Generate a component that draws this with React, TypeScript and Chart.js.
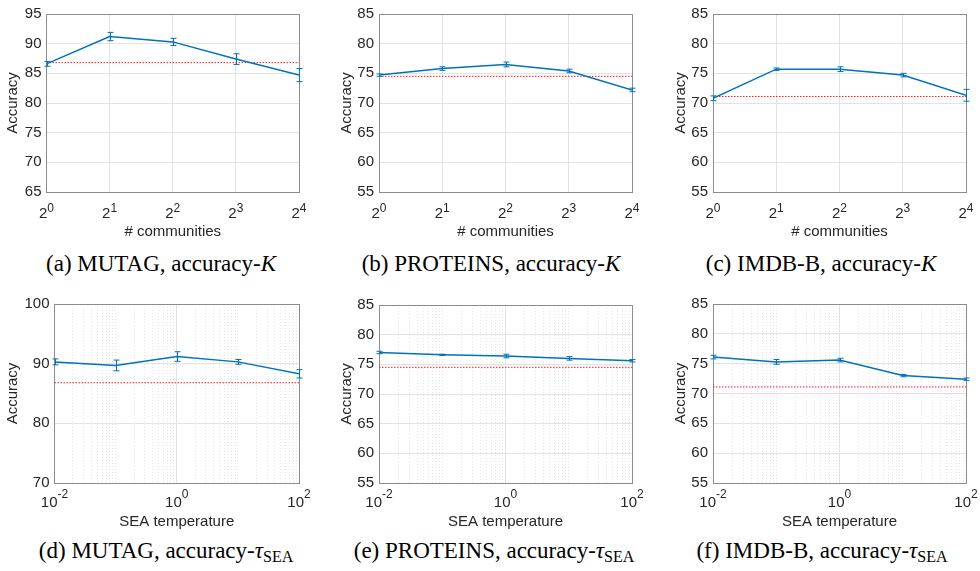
import React, { useEffect, useRef } from 'react';
import { Chart, registerables } from 'chart.js';

Chart.register(...registerables);

// ---------- data ----------
const K_VALUES = [1, 2, 4, 8, 16];
const TEMP_VALUES = [0.01, 0.1, 1, 10, 100];

const MUTAG_K = [86.6, 91.2, 90.3, 87.4, 84.7];
const MUTAG_K_ERR = [0.4, 0.7, 0.6, 0.9, 1.1];
const PROTEINS_K = [74.7, 75.8, 76.5, 75.4, 72.2];
const PROTEINS_K_ERR = [0.2, 0.3, 0.4, 0.3, 0.3];
const IMDB_K = [70.8, 75.7, 75.7, 74.7, 71.3];
const IMDB_K_ERR = [0.4, 0.2, 0.4, 0.3, 1.0];

const MUTAG_T = [90.3, 89.7, 91.2, 90.3, 88.3];
const MUTAG_T_ERR = [0.5, 0.9, 0.8, 0.4, 0.7];
const PROTEINS_T = [77.0, 76.6, 76.4, 76.0, 75.6];
const PROTEINS_T_ERR = [0.2, 0.1, 0.3, 0.3, 0.2];
const IMDB_T = [76.1, 75.3, 75.6, 73.0, 72.4];
const IMDB_T_ERR = [0.3, 0.4, 0.3, 0.2, 0.2];

const BASE_MUTAG = 86.8;
const BASE_PROTEINS = 74.5;
const BASE_IMDB = 71.1;

const K_TICK_VALUES = [1, 2, 4, 8, 16];
const K_TICK_BASES = ['2', '2', '2', '2', '2'];
const K_TICK_EXPS = ['0', '1', '2', '3', '4'];
const TEMP_TICK_VALUES = [0.01, 1, 100];
const TEMP_TICK_BASES = ['10', '10', '10'];
const TEMP_TICK_EXPS = ['-2', '0', '2'];

// minor grid positions for the log temperature axis
const TEMP_GRID: number[] = [];
for (let d = -2; d <= 1; d++) {
  for (let k = 1; k <= 9; k++) TEMP_GRID.push(Number((k * Math.pow(10, d)).toPrecision(3)));
}
TEMP_GRID.push(100);

// ---------- styles ----------
const BLUE = '#0072BD';
const RED = '#ff1a1a';
const BOX = '#8c8c8c';
const GRID = '#e3e3e3';
const MINOR = '#e6e6e6';
const TEXT = '#262626';
const SANS = '"Liberation Sans", Arial, Helvetica, sans-serif';
const SERIF = '"Liberation Serif", "Times New Roman", serif';

type PanelCfg = {
  x: number[];
  y: number[];
  err: number[];
  base: number;
  yMin: number;
  yMax: number;
  yStep: number;
  xMin: number;
  xMax: number;
  xGrid: number[];
  xMajor: number[];
  tickVals: number[];
  tickBases: string[];
  tickExps: string[];
  xTitle: string;
  L: number;
  T: number;
  R: number;
  B: number;
  yTitleX: number;
  hx: number;
  labelDy: number;
  expRaise: number;
};

const TOP_K = { xMin: 1, xMax: 16, xGrid: K_TICK_VALUES, xMajor: K_TICK_VALUES, tickVals: K_TICK_VALUES, tickBases: K_TICK_BASES, tickExps: K_TICK_EXPS, xTitle: '# communities', hx: 49, labelDy: 26, expRaise: 6.5 };
const BOT_T = { xMin: 0.01, xMax: 100, xGrid: TEMP_GRID, xMajor: TEMP_TICK_VALUES, tickVals: TEMP_TICK_VALUES, tickBases: TEMP_TICK_BASES, tickExps: TEMP_TICK_EXPS, xTitle: 'SEA temperature', hx: 48, labelDy: 24, expRaise: 9.5 };

const PANELS: PanelCfg[] = [
  { ...TOP_K, x: K_VALUES, y: MUTAG_K, err: MUTAG_K_ERR, base: BASE_MUTAG, yMin: 65, yMax: 95, yStep: 5, L: 46, T: 14, R: 298, B: 192, yTitleX: 12.5 },
  { ...TOP_K, x: K_VALUES, y: PROTEINS_K, err: PROTEINS_K_ERR, base: BASE_PROTEINS, yMin: 55, yMax: 85, yStep: 5, L: 379, T: 14, R: 632, B: 192, yTitleX: 347 },
  { ...TOP_K, x: K_VALUES, y: IMDB_K, err: IMDB_K_ERR, base: BASE_IMDB, yMin: 55, yMax: 85, yStep: 5, L: 713, T: 14, R: 966, B: 192, yTitleX: 681 },
  { ...BOT_T, x: TEMP_VALUES, y: MUTAG_T, err: MUTAG_T_ERR, base: BASE_MUTAG, yMin: 70, yMax: 100, yStep: 10, L: 54, T: 304, R: 298, B: 483, yTitleX: 12.5 },
  { ...BOT_T, x: TEMP_VALUES, y: PROTEINS_T, err: PROTEINS_T_ERR, base: BASE_PROTEINS, yMin: 55, yMax: 85, yStep: 5, L: 379, T: 305, R: 632, B: 483, yTitleX: 347 },
  { ...BOT_T, x: TEMP_VALUES, y: IMDB_T, err: IMDB_T_ERR, base: BASE_IMDB, yMin: 55, yMax: 85, yStep: 5, L: 713, T: 304, R: 966, B: 483, yTitleX: 681 },
];

function Panel({ cfg }: { cfg: PanelCfg }) {
  const ref = useRef<HTMLCanvasElement | null>(null);
  const left = cfg.yTitleX - 12;
  const top = cfg.T - 14;
  const width = Math.round(cfg.R + 14 - left);
  const height = Math.round(cfg.B + cfg.hx - top);
  const yW = cfg.L - left;

  useEffect(() => {
    if (!ref.current) return;
    const overlay = {
      id: 'overlay',
      afterDatasetsDraw(chart: any) {
        const ctx = chart.ctx;
        const xs = chart.scales.x;
        const ys = chart.scales.y;
        ctx.save();
        ctx.strokeStyle = BLUE;
        ctx.lineWidth = 1;
        cfg.x.forEach((xv, i) => {
          const px = Math.round(xs.getPixelForValue(xv)) + 0.5;
          const y1 = ys.getPixelForValue(cfg.y[i] + cfg.err[i]);
          const y2 = ys.getPixelForValue(cfg.y[i] - cfg.err[i]);
          ctx.beginPath();
          ctx.moveTo(px, y1);
          ctx.lineTo(px, y2);
          ctx.moveTo(px - 3, y1);
          ctx.lineTo(px + 3, y1);
          ctx.moveTo(px - 3, y2);
          ctx.lineTo(px + 3, y2);
          ctx.stroke();
        });
        ctx.restore();
      },
      afterDraw(chart: any) {
        const ctx = chart.ctx;
        const xs = chart.scales.x;
        ctx.save();
        ctx.fillStyle = TEXT;
        ctx.textBaseline = 'alphabetic';
        ctx.textAlign = 'left';
        cfg.tickVals.forEach((v, i) => {
          const px = xs.getPixelForValue(v);
          const b = cfg.tickBases[i];
          const e = cfg.tickExps[i];
          ctx.font = `15px ${SANS}`;
          const wb = ctx.measureText(b).width;
          ctx.font = `12px ${SANS}`;
          const we = ctx.measureText(e).width;
          const sx = px - (wb + we) / 2;
          const by = xs.top + cfg.labelDy;
          ctx.font = `15px ${SANS}`;
          ctx.fillText(b, sx, by);
          ctx.font = `12px ${SANS}`;
          ctx.fillText(e, sx + wb, by - cfg.expRaise);
        });
        ctx.restore();
      },
    };

    const isMajor = (v: number) => cfg.xMajor.some((m) => Math.abs(m - v) < 1e-9);
    const isXEdge = (v: number) => Math.abs(v - cfg.xMin) < 1e-9 || Math.abs(v - cfg.xMax) < 1e-9;

    const chart = new Chart(ref.current, {
      type: 'line',
      data: {
        datasets: [
          {
            data: cfg.x.map((v, i) => ({ x: v, y: cfg.y[i] })),
            borderColor: BLUE,
            borderWidth: 1.5,
            pointRadius: 0,
            fill: false,
            tension: 0,
          },
          {
            data: [
              { x: cfg.xMin, y: cfg.base },
              { x: cfg.xMax, y: cfg.base },
            ],
            borderColor: RED,
            borderWidth: 1,
            borderDash: [1.5, 1.5],
            pointRadius: 0,
            fill: false,
          },
        ],
      },
      options: {
        responsive: false,
        animation: false,
        devicePixelRatio: 1,
        events: [],
        layout: { padding: { left: 0, top: 14, right: 14, bottom: 0 } },
        plugins: { legend: { display: false }, tooltip: { enabled: false } },
        scales: {
          x: {
            type: 'logarithmic',
            min: cfg.xMin,
            max: cfg.xMax,
            afterBuildTicks: (s: any) => {
              s.ticks = cfg.xGrid.map((v) => ({ value: v }));
            },
            afterFit: (s: any) => {
              s.height = cfg.hx;
            },
            ticks: { display: false },
            grid: {
              drawTicks: false,
              lineWidth: 1,
              color: (c: any) => {
                if (!c.tick) return GRID;
                if (isXEdge(c.tick.value)) return BOX;
                return isMajor(c.tick.value) ? GRID : MINOR;
              },
            },
            border: {
              color: BOX,
              width: 1,
              dash: (c: any) => (c && c.tick && !isMajor(c.tick.value) ? [1, 2] : []),
            },
            title: {
              display: true,
              text: cfg.xTitle,
              color: TEXT,
              font: { family: SANS, size: 15 },
              padding: 0,
            },
          },
          y: {
            type: 'linear',
            min: cfg.yMin,
            max: cfg.yMax,
            afterFit: (s: any) => {
              s.width = yW;
            },
            ticks: {
              stepSize: cfg.yStep,
              color: TEXT,
              font: { family: SANS, size: 15 },
              padding: 5,
            },
            grid: {
              drawTicks: false,
              lineWidth: 1,
              color: (c: any) => {
                if (!c.tick) return GRID;
                const v = c.tick.value;
                return v === cfg.yMax || v === cfg.yMin ? BOX : GRID;
              },
            },
            border: { color: BOX, width: 1 },
            title: {
              display: true,
              text: 'Accuracy',
              color: TEXT,
              font: { family: SANS, size: 15 },
              padding: { top: 3, bottom: 0 },
            },
          },
        },
      } as any,
      plugins: [overlay],
    });
    return () => chart.destroy();
  }, []);

  return (
    <canvas
      ref={ref}
      width={width}
      height={height}
      style={{ position: 'absolute', left, top, width, height }}
    />
  );
}

function Caption({ cx, top, letter, name, tau }: { cx: number; top: number; letter: string; name: string; tau: boolean }) {
  return (
    <div
      style={{
        position: 'absolute',
        left: cx - 170,
        top,
        width: 340,
        textAlign: 'center',
        fontFamily: SERIF,
        fontSize: 23,
        lineHeight: '23px',
        color: '#000',
        whiteSpace: 'nowrap',
      }}
    >
      ({letter}) {name}, accuracy-
      {tau ? (
        <span>
          <i>τ</i>
          <span style={{ fontSize: 16, position: 'relative', top: 4 }}>SEA</span>
        </span>
      ) : (
        <i>K</i>
      )}
    </div>
  );
}

export default function App() {
  return (
    <div
      style={{
        position: 'absolute',
        left: 0,
        top: 0,
        width: 980,
        height: 571,
        background: '#fff',
        overflow: 'hidden',
      }}
    >
      {PANELS.map((p, i) => (
        <Panel key={i} cfg={p} />
      ))}
      <Caption cx={161} top={251.8} letter="a" name="MUTAG" tau={false} />
      <Caption cx={491} top={251.8} letter="b" name="PROTEINS" tau={false} />
      <Caption cx={821} top={251.8} letter="c" name="IMDB-B" tau={false} />
      <Caption cx={166} top={538.8} letter="d" name="MUTAG" tau={true} />
      <Caption cx={494} top={538.8} letter="e" name="PROTEINS" tau={true} />
      <Caption cx={822} top={538.8} letter="f" name="IMDB-B" tau={true} />
    </div>
  );
}
